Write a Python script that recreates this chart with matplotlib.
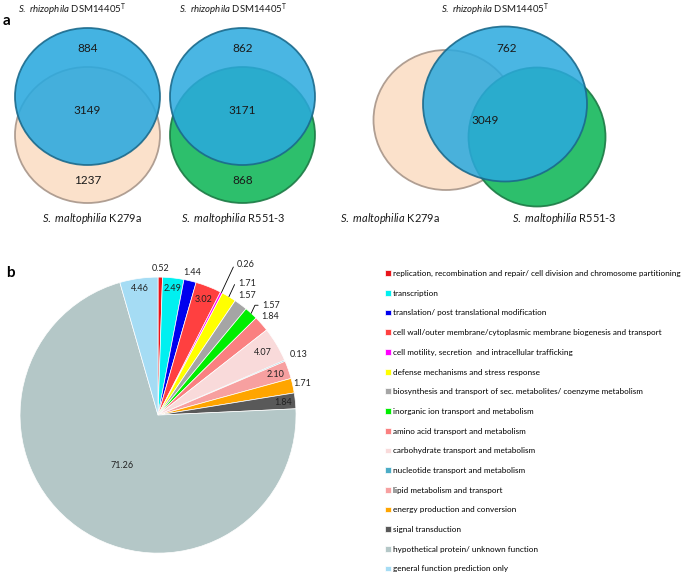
import numpy as np
import matplotlib
matplotlib.use('Agg')
import matplotlib.pyplot as plt
from matplotlib.patches import Ellipse

plt.rcParams['font.family'] = 'Lato'
plt.rcParams['mathtext.fontset'] = 'custom'
plt.rcParams['mathtext.rm'] = 'Lato'
plt.rcParams['mathtext.it'] = 'Lato:italic'

# panel a: gene counts of the Venn diagrams
pair_k279a = [884, 3149, 1237]    # rhizophila only, shared, K279a only
pair_r551 = [862, 3171, 868]      # rhizophila only, shared, R551-3 only
three_way = [762, 3049]           # rhizophila only, core of all three

rhizo_label = r'$\mathit{S.\ rhizophila}$ DSM14405$^{\mathrm{T}}$'
k279a_label = r'$\mathit{S.\ maltophilia}$ K279a'
r551_label = r'$\mathit{S.\ maltophilia}$ R551-3'

# panel b: COG categories of the rhizophila-specific genes (%)
categories = [
    'replication, recombination and repair/ cell division and chromosome partitioning',
    'transcription',
    'translation/ post translational modification',
    'cell wall/outer membrane/cytoplasmic membrane biogenesis and transport',
    'cell motility, secretion  and intracellular trafficking',
    'defense mechanisms and stress response',
    'biosynthesis and transport of sec. metabolites/ coenzyme metabolism',
    'inorganic ion transport and metabolism',
    'amino acid transport and metabolism',
    'carbohydrate transport and metabolism',
    'nucleotide transport and metabolism',
    'lipid metabolism and transport',
    'energy production and conversion',
    'signal transduction',
    'hypothetical protein/ unknown function',
    'general function prediction only',
]
percent = [0.52, 2.49, 1.44, 3.02, 0.26, 1.71, 1.57, 1.57, 1.84, 4.07,
           0.13, 2.10, 1.71, 1.84, 71.26, 4.46]

colors = ['#e8141a', '#00f0f0', '#0000ee', '#ff4040', '#ff00ff', '#ffff00',
          '#a5a5a5', '#00ee00', '#fa8080', '#f9dada', '#4bacc6', '#f7a0a0',
          '#ffa500', '#595959', '#b4c7c7', '#a5dcf4']

# label placement (radius factor); None -> label with leader line
label_r = [1.06, 0.92, 1.06, 0.9, None, None, 1.08, None, 1.08, 0.88,
           1.11, 0.9, 1.07, 0.91, 0.45, 0.93]
leader_offset = {4: (11, 20.5), 5: (6.5, 9.8), 7: (8, 5.8)}

fig = plt.figure(figsize=(6.85, 5.76), dpi=100)

# ---- panel a, drawn in pixel coordinates
ax0 = fig.add_axes([0, 0, 1, 1])
ax0.set_xlim(0, 685)
ax0.set_ylim(576, 0)
ax0.axis('off')

blue, blue_e = '#2aa9df', '#1b6a8c'
peach, peach_e = '#fbe1cb', '#a8968a'
green, green_e = '#2dbf6c', '#1c7a45'


def blob(cx, cy, w, h, face, edge, alpha=1.0):
    ax0.add_patch(Ellipse((cx, cy), w, h, facecolor=face, edgecolor='none', alpha=alpha))
    ax0.add_patch(Ellipse((cx, cy), w, h, facecolor='none', edgecolor=edge, lw=1.3, alpha=0.9))


# venn 1
blob(87.5, 135, 145, 136, peach, peach_e)
blob(87.5, 96.5, 145, 137, blue, blue_e, 0.88)
# venn 2
blob(242.5, 135, 145, 136, green, green_e)
blob(242.5, 96.5, 145, 137, blue, blue_e, 0.85)
# venn 3
blob(446, 120, 145, 140, peach, peach_e)
blob(537, 137, 137, 139, green, green_e)
blob(505, 104, 164, 155, blue, blue_e, 0.85)

num_kw = dict(ha='center', va='center', fontsize=8.5, color='#1a1a1a')
for x0, vals in [(87.5, pair_k279a), (242.5, pair_r551)]:
    ax0.text(x0, 49, str(vals[0]), **num_kw)
    ax0.text(x0, 110, str(vals[1]), **num_kw)
    ax0.text(x0, 181, str(vals[2]), **num_kw)
ax0.text(507, 48, str(three_way[0]), **num_kw)
ax0.text(485, 120, str(three_way[1]), **num_kw)

top_kw = dict(ha='center', va='center', fontsize=6.9, color='#1a1a1a')
bot_kw = dict(ha='center', va='center', fontsize=7.9, color='#1a1a1a')
ax0.text(72, 10, rhizo_label, **top_kw)
ax0.text(233, 10, rhizo_label, **top_kw)
ax0.text(495, 10, rhizo_label, **top_kw)
ax0.text(92, 218, k279a_label, **bot_kw)
ax0.text(233, 218, r551_label, **bot_kw)
ax0.text(390, 218, k279a_label, **bot_kw)
ax0.text(564, 218, r551_label, **bot_kw)

ax0.text(3, 21, 'a', fontsize=11, fontweight='bold', va='center')
ax0.text(6, 273, 'b', fontsize=11, fontweight='bold', va='center')

# ---- panel b, pie chart
R = 138.0
ax = fig.add_axes([0.7 / 685, 16 / 576, 2.54 * R / 685, 2.3 * R / 576])
wedges, _ = ax.pie(percent, colors=colors, startangle=90, counterclock=False,
                   wedgeprops=dict(edgecolor='white', linewidth=0.5))
ax.set_xlim(-1.14, 1.40)
ax.set_ylim(-1.05, 1.25)
ax.axis('off')

for i, w in enumerate(wedges):
    ang = np.deg2rad((w.theta1 + w.theta2) / 2)
    txt = f'{percent[i]:.2f}'
    if label_r[i] is None:
        dx, dy = leader_offset[i]
        ax.annotate(txt, xy=(np.cos(ang), np.sin(ang)), xytext=(dx, dy),
                    textcoords='offset points', ha='left', va='center', fontsize=6.5,
                    color='#222222',
                    arrowprops=dict(arrowstyle='-', lw=0.6, color='black', shrinkA=1,
                                    shrinkB=0, connectionstyle='angle,angleA=0,angleB=65,rad=0'))
    else:
        r = label_r[i]
        ax.text(r * np.cos(ang), r * np.sin(ang), txt, ha='center', va='center',
                fontsize=6.5, color='#222222')

fig.legend(wedges, categories, loc='upper left', bbox_to_anchor=(385 / 685, 1 - 270 / 576),
           frameon=False, fontsize=5.85, handlelength=0.7, handleheight=0.7,
           handletextpad=0.3, labelspacing=1.56, borderpad=0, borderaxespad=0)

fig.savefig('out.png', dpi=100)
